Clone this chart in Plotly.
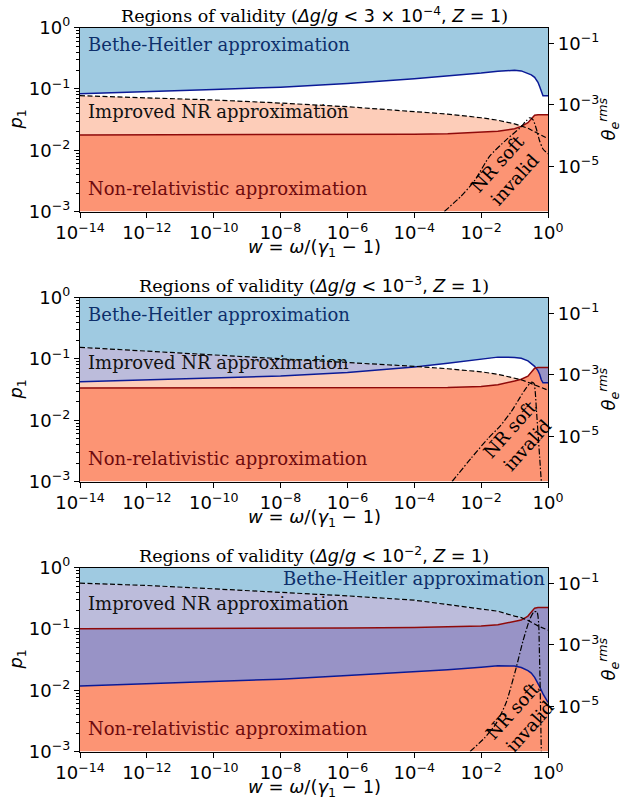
import numpy as np
import plotly.graph_objects as go

# ---------------- data (log10 values) ----------------
# common grid of log10(w)
W = [-14, -12, -10, -8, -6, -4, -3, -2, -1.5, -1, -0.8, -0.6, -0.5, -0.4, -0.3, -0.25, -0.2, -0.15, 0]

# panel 1 : dg/g < 3e-4
B1 = [-1.08, -1.05, -1.01, -0.97, -0.91, -0.835, -0.79, -0.74, -0.71, -0.695, -0.705, -0.74, -0.77, -0.81, -0.89, -0.96, -1.04, -1.11, -1.11]
R1 = [-1.75, -1.75, -1.75, -1.75, -1.745, -1.74, -1.73, -1.71, -1.69, -1.65, -1.61, -1.55, -1.48, -1.43, -1.42, -1.42, -1.42, -1.42, -1.42]
D1 = [-1.11, -1.14, -1.18, -1.23, -1.29, -1.37, -1.41, -1.47, -1.51, -1.57, -1.60, -1.64, -1.67, -1.70, -1.73, -1.745, -1.76, -1.775, -1.81]
DDW1 = [-3.1, -2.6, -2.2, -1.75, -1.25, -0.85, -0.65, -0.55, -0.45, -0.35, -0.25, -0.15, 0]
DDP1 = [-3.0, -2.75, -2.5, -2.1, -1.83, -1.64, -1.52, -1.47, -1.5, -1.65, -1.85, -1.98, -2.06]

# panel 2 : dg/g < 1e-3
B2 = [-1.37, -1.34, -1.32, -1.28, -1.22, -1.13, -1.07, -1.0, -0.97, -0.975, -0.99, -1.03, -1.07, -1.12, -1.19, -1.25, -1.34, -1.39, -1.39]
R2 = [-1.475, -1.475, -1.475, -1.475, -1.475, -1.47, -1.465, -1.45, -1.42, -1.36, -1.33, -1.28, -1.21, -1.15, -1.14, -1.14, -1.14, -1.14, -1.14]
D2 = [-0.81, -0.87, -0.93, -0.99, -1.05, -1.12, -1.16, -1.21, -1.25, -1.31, -1.34, -1.38, -1.40, -1.42, -1.45, -1.46, -1.47, -1.48, -1.51]
DDW2 = [-2.87, -2.3, -1.8, -1.44, -1.1, -0.84, -0.65, -0.5, -0.42, -0.38, -0.35, -0.3, -0.25, -0.2]
DDP2 = [-3.0, -2.62, -2.3, -2.1, -1.86, -1.63, -1.47, -1.38, -1.4, -1.55, -1.8, -2.2, -2.6, -3.0]

# panel 3 : dg/g < 1e-2
B3 = [-1.93, -1.89, -1.86, -1.82, -1.76, -1.70, -1.665, -1.625, -1.60, -1.605, -1.63, -1.68, -1.72, -1.79, -1.88, -1.94, -2.0, -2.06, -2.2]
R3 = [-0.995, -0.995, -0.99, -0.99, -0.985, -0.975, -0.965, -0.95, -0.93, -0.885, -0.855, -0.79, -0.72, -0.66, -0.65, -0.65, -0.65, -0.65, -0.65]
D3 = [-0.253, -0.29, -0.345, -0.40, -0.46, -0.53, -0.60, -0.68, -0.71, -0.79, -0.815, -0.86, -0.895, -0.92, -0.95, -0.96, -0.975, -0.985, -1.02]
DDW3 = [-2.33, -1.9, -1.56, -1.25, -0.96, -0.75, -0.55, -0.42, -0.33, -0.28, -0.26, -0.24, -0.22, -0.2]
DDP3 = [-3.0, -2.78, -2.55, -2.2, -1.65, -1.2, -0.85, -0.72, -0.72, -0.9, -1.3, -1.8, -2.4, -3.0]

TITLES = [
    "3 × 10<sup>−4</sup>",
    "10<sup>−3</sup>",
    "10<sup>−2</sup>",
]
X_TICK_EXP = [-14, -12, -10, -8, -6, -4, -2, 0]
Y_TICK_EXP = [-3, -2, -1, 0]
THETA_TICK_EXP = [-5, -3, -1]

# label positions (log units)
BH_POS = [(-13.82, -0.275, "left"), (-13.82, -0.275, "left"), (-0.04, -0.18, "right")]
INR_Y = [-1.36, -1.05, -0.585]
NR_Y = -2.63
SOFT_POS = [(-1.25, -2.34), (-0.88, -2.28), (-0.8, -2.45)]

PANELS = [(B1, R1, D1, DDW1, DDP1), (B2, R2, D2, DDW2, DDP2), (B3, R3, D3, DDW3, DDP3)]

# ---------------- style ----------------
LIGHT_BLUE = "#9fcae1"
SALMON = "#fc9474"
LIGHT_SALMON = "#fdcdb9"
LAVENDER = "#bcbcdb"
PURPLE = "#9893c6"
BLUE_LINE = "#0b1a96"
RED_LINE = "#8f0a0a"
SANS = "DejaVu Sans"
SERIF = "DejaVu Serif"
FS_TICK = 18
FS_LAB = 18
FS_TITLE = 17.5

H = 800
PLOT_W = 468
TOP_PX = 27.7
BOT_PX = 211.5
STEP = 270

fig = go.Figure()
layout = {}


def sup(e):
    return "10<sup>" + str(e).replace("-", "−") + "</sup>"


anns = []
for k, (B, R, D, DDW, DDP) in enumerate(PANELS):
    xn = "x" if k == 0 else f"x{k+1}"
    yl = "y" if k == 0 else f"y{2*k+1}"
    yr = f"y{2*k+2}"
    xkey = "xaxis" if k == 0 else f"xaxis{k+1}"
    ylkey = "yaxis" if k == 0 else f"yaxis{2*k+1}"
    yrkey = f"yaxis{2*k+2}"

    w = np.array(W, dtype=float)
    b = np.array(B, dtype=float)
    r = np.array(R, dtype=float)
    d = np.array(D, dtype=float)
    bottom = np.full_like(w, -3.0)
    top = np.zeros_like(w)

    mBR = np.minimum(b, r)
    MBR = np.maximum(b, r)
    bands = [
        (bottom, mBR, SALMON),                                   # NR only
        (mBR, r, PURPLE),                                        # NR + BH
        (r, np.maximum(r, np.minimum(d, b)), LIGHT_SALMON),      # improved NR only
        (MBR, np.maximum(MBR, d), LAVENDER),                     # improved NR + BH
        (np.maximum(np.maximum(b, r), d), top, LIGHT_BLUE),      # BH only
    ]
    xv = 10 ** w
    for lo, hi, col in bands:
        fig.add_trace(go.Scatter(x=xv, y=10 ** lo, mode="lines", line=dict(width=0, color=col),
                                 xaxis=xn, yaxis=yl, showlegend=False, hoverinfo="skip"))
        fig.add_trace(go.Scatter(x=xv, y=10 ** hi, mode="lines", line=dict(width=0, color=col),
                                 fill="tonexty", fillcolor=col,
                                 xaxis=xn, yaxis=yl, showlegend=False, hoverinfo="skip"))

    # boundary lines
    fig.add_trace(go.Scatter(x=xv, y=10 ** b, mode="lines", line=dict(color=BLUE_LINE, width=1.5),
                             xaxis=xn, yaxis=yl, showlegend=False, hoverinfo="skip"))
    fig.add_trace(go.Scatter(x=xv, y=10 ** r, mode="lines", line=dict(color=RED_LINE, width=1.5),
                             xaxis=xn, yaxis=yl, showlegend=False, hoverinfo="skip"))
    fig.add_trace(go.Scatter(x=xv, y=10 ** d, mode="lines",
                             line=dict(color="black", width=1.2, dash="5px,2.5px"),
                             xaxis=xn, yaxis=yl, showlegend=False, hoverinfo="skip"))
    fig.add_trace(go.Scatter(x=10 ** np.array(DDW, dtype=float), y=10 ** np.array(DDP, dtype=float),
                             mode="lines", line=dict(color="black", width=1.2, dash="6px,2px,1.5px,2px",
                                                     shape="spline", smoothing=0.6),
                             xaxis=xn, yaxis=yl, showlegend=False, hoverinfo="skip"))
    # dummy trace for right axis
    fig.add_trace(go.Scatter(x=[None], y=[None], xaxis=xn, yaxis=yr, showlegend=False, hoverinfo="skip"))

    top_px = TOP_PX + STEP * k
    bot_px = BOT_PX + STEP * k
    dom = [1 - bot_px / H, 1 - top_px / H]
    mid = 1 - (top_px + bot_px) / 2 / H

    axis_common = dict(showline=True, linecolor="black", linewidth=1.3, ticks="outside", ticklen=5,
                       tickwidth=1.2, tickcolor="black", showgrid=False, zeroline=False, automargin=False,
                       tickfont=dict(family=SANS, size=FS_TICK, color="black"))
    layout[xkey] = dict(axis_common, type="log", range=[-14, 0], domain=[0, 1], anchor=yl, mirror=True,
                        tickvals=[10.0 ** e for e in X_TICK_EXP], ticktext=[sup(e) for e in X_TICK_EXP])
    layout[ylkey] = dict(axis_common, type="log", range=[-3, 0], domain=dom, anchor=xn,
                         tickvals=[10.0 ** e for e in Y_TICK_EXP], ticktext=[sup(e) for e in Y_TICK_EXP],
                         minor=dict(ticks="outside", ticklen=3, tickcolor="black",
                                    tickvals=[m * 10.0 ** e for e in range(-3, 0) for m in range(2, 10)]))
    layout[yrkey] = dict(axis_common, type="log", range=[-6.477, -0.477], overlaying=yl, side="right",
                         anchor=xn,
                         tickvals=[10.0 ** e for e in THETA_TICK_EXP], ticktext=[sup(e) for e in THETA_TICK_EXP])

    # title
    anns.append(dict(xref="paper", yref="paper", x=0.5, y=1 - top_px / H, yanchor="bottom", yshift=0,
                     showarrow=False, font=dict(family=SERIF, size=FS_TITLE, color="black"),
                     text=f"Regions of validity (<span style='font-family:{SANS}'><i>Δg</i>/<i>g</i> &lt; "
                          f"{TITLES[k]}, <i>Z</i> = 1</span>)"))
    # x title
    anns.append(dict(xref="paper", yref="paper", x=0.5, y=1 - (bot_px + 36.5) / H, yanchor="middle",
                     showarrow=False, font=dict(family=SANS, size=FS_TICK, color="black"),
                     text="<i>w</i> = <i>ω</i>/(<i>γ</i><sub>1</sub> − 1)"))
    # left y title
    anns.append(dict(xref="paper", yref="paper", x=-63 / PLOT_W, y=mid,
                     xanchor="center", yanchor="middle", textangle=-90, showarrow=False,
                     font=dict(family=SANS, size=FS_TICK, color="black"), text="<i>p</i><sub>1</sub>"))
    # right y title
    anns.append(dict(xref="paper", yref="paper", x=1 + 60 / PLOT_W, y=mid,
                     xanchor="center", yanchor="middle", textangle=-90, showarrow=False,
                     font=dict(family=SANS, size=FS_TICK, color="black"),
                     text="<i>θ</i><sub><i>e</i></sub><sup><i>rms</i></sup>"))
    # region labels
    bx, by, banc = BH_POS[k]
    anns.append(dict(xref=xn, yref=yl, x=bx, y=by, xanchor=banc, yanchor="middle", showarrow=False,
                     font=dict(family=SERIF, size=FS_LAB, color="#0d2f6b"), text="Bethe-Heitler approximation"))
    anns.append(dict(xref=xn, yref=yl, x=-13.82, y=INR_Y[k], xanchor="left", yanchor="middle", showarrow=False,
                     font=dict(family=SERIF, size=FS_LAB, color="#111111"), text="Improved NR approximation"))
    anns.append(dict(xref=xn, yref=yl, x=-13.82, y=NR_Y, xanchor="left", yanchor="middle", showarrow=False,
                     font=dict(family=SERIF, size=FS_LAB, color="#6e0a0e"), text="Non-relativistic approximation"))
    sx, sy = SOFT_POS[k]
    anns.append(dict(xref=xn, yref=yl, x=sx, y=sy, xanchor="center", yanchor="middle", showarrow=False,
                     textangle=-48, font=dict(family=SERIF, size=FS_LAB, color="black"),
                     text="NR soft<br>invalid"))

fig.update_layout(
    width=628, height=800,
    margin=dict(l=80, r=80, t=0, b=0, autoexpand=False),
    paper_bgcolor="white", plot_bgcolor="white",
    annotations=anns,
    **layout,
)

fig.write_html("out.html", config={"displayModeBar": False},
               post_script="document.body.style.margin='0';document.body.style.padding='0';")
